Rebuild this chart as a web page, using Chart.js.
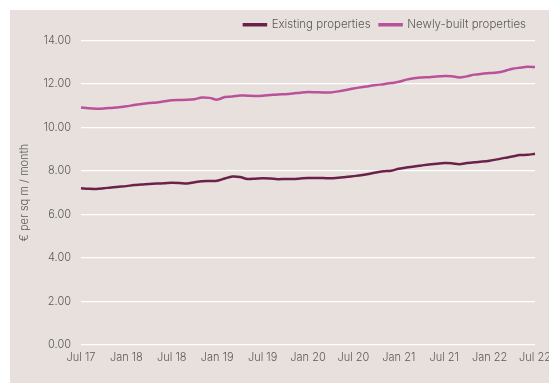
<!DOCTYPE html>
<html>
<head>
<meta charset="utf-8">
<script src="https://cdn.jsdelivr.net/npm/chart.js@4.4.1/dist/chart.umd.min.js"></script>
<style>
    html, body { margin: 0; padding: 0; background: #ffffff; }
    .panel {
        position: absolute;
        left: 10px;
        top: 10px;
        width: 539px;
        height: 373px;
        background: #e7e0dc;
    }
</style>
</head>
<body>
<div class="panel">
    <canvas id="rentChart" width="539" height="373"></canvas>
</div>
<script>
    // Alquiler medio mensual, € por m2 (julio 2017 - julio 2022)
    const monthNames = ["Jan", "Feb", "Mar", "Apr", "May", "Jun", "Jul", "Aug", "Sep", "Oct", "Nov", "Dec"];
    const tickLabels = ["Jul 17", "Jan 18", "Jul 18", "Jan 19", "Jul 19", "Jan 20", "Jul 20", "Jan 21", "Jul 21", "Jan 22", "Jul 22"];

    const existingProps = [
        7.20, 7.18, 7.17, 7.20, 7.24, 7.27, 7.30, 7.35, 7.37, 7.40,
        7.42, 7.43, 7.45, 7.44, 7.42, 7.48, 7.53, 7.54, 7.55, 7.65,
        7.74, 7.72, 7.63, 7.64, 7.66, 7.65, 7.62, 7.63, 7.63, 7.65,
        7.67, 7.67, 7.67, 7.66, 7.69, 7.72, 7.76, 7.80, 7.86, 7.93,
        7.98, 8.01, 8.10, 8.16, 8.20, 8.25, 8.30, 8.33, 8.36, 8.35,
        8.31, 8.36, 8.40, 8.43, 8.47, 8.53, 8.60, 8.66, 8.73, 8.74,
        8.79
    ];

    const newlyBuilt = [
        10.92, 10.88, 10.86, 10.87, 10.90, 10.93, 10.97, 11.03, 11.08, 11.12,
        11.15, 11.20, 11.25, 11.26, 11.27, 11.30, 11.38, 11.36, 11.28, 11.40,
        11.42, 11.47, 11.46, 11.45, 11.46, 11.49, 11.52, 11.53, 11.56, 11.60,
        11.63, 11.62, 11.61, 11.61, 11.66, 11.72, 11.79, 11.85, 11.90, 11.95,
        11.99, 12.04, 12.10, 12.20, 12.26, 12.30, 12.31, 12.34, 12.37, 12.36,
        12.30, 12.35, 12.43, 12.47, 12.50, 12.53, 12.60, 12.70, 12.75, 12.79,
        12.78
    ];

    // Etiquetas mensuales a partir de julio 2017
    const labels = existingProps.map((_, i) => {
        const m = (6 + i) % 12;
        const y = 17 + Math.floor((6 + i) / 12);
        return monthNames[m] + " " + y;
    });

    const textColor = "#5a5a5a";
    const fontFamily = "Inter, 'Open Sans', sans-serif";

    new Chart(document.getElementById("rentChart").getContext("2d"), {
        type: "line",
        data: {
            labels: labels,
            datasets: [
                {
                    label: "Existing properties",
                    data: existingProps,
                    borderColor: "#6b2249",
                    backgroundColor: "#6b2249",
                    borderWidth: 2.5,
                    pointRadius: 0,
                    tension: 0.3,
                },
                {
                    label: "Newly-built properties",
                    data: newlyBuilt,
                    borderColor: "#b9529b",
                    backgroundColor: "#b9529b",
                    borderWidth: 2.5,
                    pointRadius: 0,
                    tension: 0.3,
                },
            ],
        },
        options: {
            responsive: false,
            animation: false,
            layout: { padding: { top: 0, right: 14, bottom: 13, left: 0 } },
            plugins: {
                legend: {
                    position: "top",
                    align: "end",
                    labels: {
                        boxWidth: 22,
                        boxHeight: 1,
                        padding: 9,
                        color: textColor,
                        font: { family: fontFamily, size: 11.5, weight: 300 },
                    },
                },
                tooltip: { enabled: true },
            },
            scales: {
                x: {
                    grid: { display: false, drawTicks: false },
                    border: { display: false },
                    ticks: {
                        autoSkip: false,
                        maxRotation: 0,
                        padding: 6,
                        color: textColor,
                        font: { family: fontFamily, size: 11, weight: 300 },
                        callback: function (value, index) {
                            return index % 6 === 0 ? tickLabels[index / 6] : null;
                        },
                    },
                    afterFit: function (scale) {
                        scale.paddingLeft = 0;
                        scale.paddingRight = 0;
                    },
                },
                y: {
                    min: 0,
                    max: 14,
                    grid: { color: "#ffffff", lineWidth: 1.2, drawTicks: false },
                    border: { display: false },
                    ticks: {
                        stepSize: 2,
                        padding: 10,
                        color: textColor,
                        font: { family: fontFamily, size: 11, weight: 300 },
                        callback: (v) => v.toFixed(2),
                    },
                    title: {
                        display: true,
                        text: "€ per sq m / month",
                        color: textColor,
                        font: { family: fontFamily, size: 11, weight: 300 },
                        padding: { top: 8, bottom: 0 },
                    },
                    afterFit: function (scale) {
                        scale.width = 71;
                    },
                },
            },
        },
    });
</script>
</body>
</html>
